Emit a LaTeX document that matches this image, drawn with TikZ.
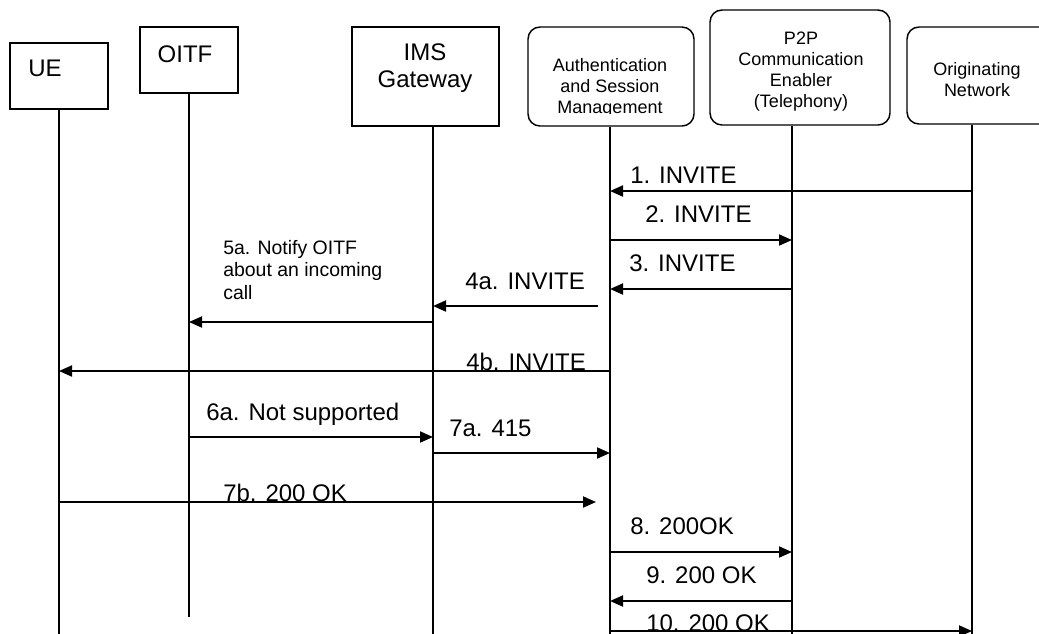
\documentclass[tikz,border=0pt]{standalone}
\usepackage{fontspec}
\setmainfont{Liberation Sans}
\usetikzlibrary{arrows.meta, calc}

\begin{document}
\begin{tikzpicture}[
  x=0.75pt, y=-0.75pt,
  >={Triangle[length=9.75pt, width=8.25pt]},
  every node/.style={inner sep=0pt},
  sqbox/.style  = {draw, line width=1.1pt},
  rbox/.style   = {draw, line width=1.1pt, rounded corners=9pt},
  big/.style    = {font=\fontsize{18}{20.25}\selectfont, align=center},
  small/.style  = {font=\fontsize{13.5}{15.75}\selectfont, align=center},
  note/.style   = {font=\fontsize{14.6}{16.9}\selectfont, align=left},
  msglbl/.style = {font=\fontsize{18}{20}\selectfont, anchor=base west},
  life/.style   = {line width=0.9pt},
  msg/.style    = {->, line width=1.4pt},
]
  \useasboundingbox (0,0) rectangle (1039,633);
  % actors
  \node[sqbox, minimum width=73.5pt, minimum height=49.5pt]   (ue)   at (59,76) {};
  \node[sqbox, minimum width=73.5pt, minimum height=49.5pt]   (oitf) at (189,60) {};
  \node[sqbox, minimum width=110.25pt, minimum height=74.25pt] (ims) at (425.5,76.5) {};
  \node[rbox, minimum width=124.5pt, minimum height=74.25pt]  (asm)  at (611,76.5) {};
  \node[rbox, minimum width=135pt, minimum height=86.25pt]    (p2p)  at (800,67.5) {};
  \node[rbox, minimum width=114.75pt, minimum height=72.75pt] (orig) at (983.5,75.5) {};
  \node[big, anchor=base west] (ueT)   at (28,76) {UE};
  \node[big, anchor=base]      (oitfT) at (185,62) {OITF};
  \node[big, anchor=north]     (imsT)  at (425,43) {IMS\\Gateway};
  \begin{scope}
    \clip (asm.north west) rectangle (asm.east |- 0,113);
    \node[small, anchor=north] (asmT) at (610,58) {Authentication\\and Session\\Management};
  \end{scope}
  \node[small, anchor=north] (p2pT)  at (801,32) {P2P\\Communication\\Enabler\\(Telephony)};
  \node[small, anchor=north] (origT) at (977,62) {Originating\\Network};
  % lifelines
  \foreach \n/\x/\y in {ue/59/640, oitf/189/617, ims/433/640, asm/610/640, p2p/792/640, orig/972/640}{
    \coordinate (\n-l) at (\x,\y);
    \draw[life] (\n.south -| \n-l) -- (\n-l);
  }
  % messages
  \coordinate (s4a) at (598,306);
  \coordinate (e7b) at (596,502);
  \foreach \a/\b/\y in {orig-l/asm-l/191, asm-l/p2p-l/240, p2p-l/asm-l/289, ims-l/oitf-l/322,
                        asm-l/ue-l/371, oitf-l/ims-l/437, ims-l/asm-l/453, asm-l/p2p-l/552,
                        p2p-l/asm-l/601, asm-l/orig-l/631}
    \draw[msg] (\a |- 0,\y) -- (\b |- 0,\y);
  \draw[msg] (s4a) -- (ims-l |- s4a);
  \draw[msg] (ue-l |- e7b) -- (e7b);
  \foreach \x/\y/\t [count=\i] in {630/183/1. INVITE, 645/222/2. INVITE, 629/271/3. INVITE,
                                   465/289/4a. INVITE, 466/370/4b. INVITE, 206/420/6a. Not supported,
                                   449/436/7a. 415, 223/501/7b. 200 OK, 630/534/8. 200OK,
                                   646/583/9. 200 OK, 646/631/10. 200 OK}
    \node[msglbl] (lbl\i) at (\x,\y) {\t};
  \node[note, anchor=north west] (lbl5a) at (223,240) {5a. Notify OITF\\about an incoming\\call};
\end{tikzpicture}
\end{document}
